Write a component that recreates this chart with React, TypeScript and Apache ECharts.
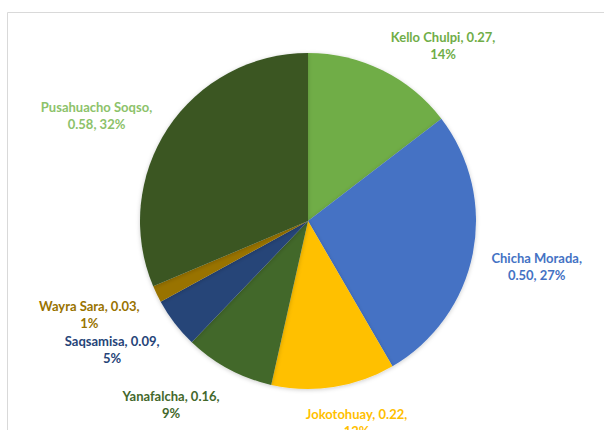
import React, { useEffect, useRef } from "react";
import * as echarts from "echarts";

const names = ["Kello Chulpi", "Chicha Morada", "Jokotohuay", "Yanafalcha", "Saqsamisa", "Wayra Sara", "Pusahuacho Soqso"];
const values = [0.27, 0.5, 0.22, 0.16, 0.09, 0.03, 0.58];
const percents = [14, 27, 12, 9, 5, 1, 32];
const sliceColors = ["#70AD47", "#4472C4", "#FFC000", "#43682B", "#264478", "#997300", "#3A5724"];
const labelColors = ["#70AD47", "#4472C4", "#FFC000", "#43682B", "#264478", "#997300", "#8CC26A"];

const W = 604;
const H = 430;
const CX = 308;
const CY = 221;
const R = 168;
const GAP = 19;
const LABEL_DY = 6;

export default function App() {
  const ref = useRef<HTMLDivElement>(null);
  useEffect(() => {
    document.body.style.margin = "0";
    const chart = echarts.init(ref.current!, null, { renderer: "svg" });
    const total = values.reduce((a, b) => a + b, 0);
    const mids: number[] = [];
    let cum = 0;
    values.forEach((v) => {
      mids.push(((cum + v / 2) / total) * Math.PI * 2);
      cum += v;
    });
    const data = names.map((n, i) => {
      const valStr = values[i].toFixed(2);
      const text = n.length >= 13
        ? `{a|${n},}\n{a|${valStr}, ${percents[i]}%}`
        : `{a|${n}, ${valStr},}\n{a|${percents[i]}%}`;
      return {
        name: n,
        value: values[i],
        itemStyle: { color: sliceColors[i] },
        label: {
          formatter: text,
          rich: {
            a: {
              align: "center",
              color: labelColors[i],
              fontFamily: "Lato",
              fontWeight: "bold",
              fontSize: 13,
              lineHeight: 17,
            },
          },
        },
      };
    });
    chart.setOption({
      animation: false,
      backgroundColor: "#ffffff",
      graphic: [
        {
          type: "rect",
          shape: { x: 7.5, y: 12.5, width: 800, height: 600 },
          style: { fill: "none", stroke: "#d9d9d9", lineWidth: 1 },
          silent: true,
          z: -10,
        },
      ],
      series: [
        {
          type: "pie",
          center: [CX, CY],
          radius: R,
          startAngle: 90,
          clockwise: true,
          avoidLabelOverlap: false,
          labelLine: { show: false },
          itemStyle: {
            borderWidth: 0,
            shadowBlur: 4,
            shadowColor: "rgba(0,0,0,0.2)",
            shadowOffsetY: 1,
          },
          label: { show: true, position: "outside" },
          labelLayout: (params: any) => {
            const i = params.dataIndex;
            const th = mids[i];
            const ux = Math.sin(th);
            const uy = -Math.cos(th);
            const w = params.labelRect.width;
            const h = params.labelRect.height;
            const k = Math.min(1, 2.6 * Math.abs(ux));
            const y = CY + LABEL_DY + (R + GAP + h / 2) * uy;
            return {
              x: CX + (R + GAP) * ux + Math.sign(ux) * k * (w / 2),
              y: Math.min(y, H - h / 2 + 7),
              align: "center",
              verticalAlign: "middle",
            };
          },
          data,
        },
      ],
    });
    return () => chart.dispose();
  }, []);
  return <div ref={ref} style={{ width: W, height: H }} />;
}
